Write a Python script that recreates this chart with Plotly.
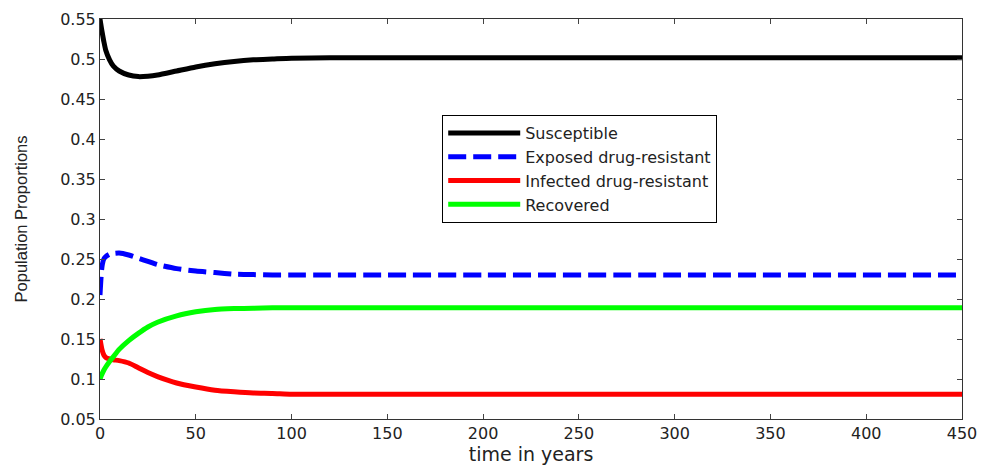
import plotly.graph_objects as go

t = [0, 1, 2, 3, 5, 7, 10, 15, 20, 25, 30, 40, 50, 60, 70, 80, 90, 100, 120, 150, 200, 300, 450]
susceptible = [0.55, 0.535, 0.522, 0.511, 0.499, 0.491, 0.485, 0.480, 0.478, 0.4785, 0.480, 0.485, 0.490, 0.494, 0.497, 0.499, 0.500, 0.501, 0.5015, 0.5015, 0.5015, 0.5015, 0.5015]
exposed = [0.205, 0.240, 0.250, 0.253, 0.256, 0.257, 0.2575, 0.255, 0.251, 0.247, 0.243, 0.238, 0.235, 0.233, 0.231, 0.2305, 0.230, 0.230, 0.230, 0.230, 0.230, 0.230, 0.230]
infected = [0.150, 0.137, 0.130, 0.127, 0.125, 0.124, 0.123, 0.120, 0.114, 0.108, 0.103, 0.095, 0.090, 0.086, 0.084, 0.0825, 0.082, 0.081, 0.081, 0.081, 0.081, 0.081, 0.081]
recovered = [0.100, 0.106, 0.111, 0.115, 0.122, 0.128, 0.137, 0.148, 0.157, 0.165, 0.171, 0.179, 0.184, 0.187, 0.188, 0.1885, 0.189, 0.189, 0.189, 0.189, 0.189, 0.189, 0.189]

names = ["Susceptible", "Exposed drug-resistant", "Infected drug-resistant", "Recovered"]
colors = ["#000000", "#0000ff", "#ff0000", "#00ff00"]
dashes = ["solid", "18px,7px", "solid", "solid"]
series = [susceptible, exposed, infected, recovered]

x_ticks = [0, 50, 100, 150, 200, 250, 300, 350, 400, 450]
y_ticks = [0.05, 0.1, 0.15, 0.2, 0.25, 0.3, 0.35, 0.4, 0.45, 0.5, 0.55]
y_labels = ["0.05", "0.1", "0.15", "0.2", "0.25", "0.3", "0.35", "0.4", "0.45", "0.5", "0.55"]

fig = go.Figure()
for n, c, d, s in zip(names, colors, dashes, series):
    fig.add_trace(go.Scatter(x=t, y=s, mode="lines", name=n,
                             line=dict(color=c, width=5, dash=d, shape="spline", smoothing=0.6)))

wide = "DejaVu Sans, Verdana, sans-serif"
fig.update_layout(
    width=983, height=465,
    margin=dict(l=100, r=21, t=19, b=46, autoexpand=False),
    paper_bgcolor="white", plot_bgcolor="white",
    font=dict(family=wide, size=16, color="#222222"),
    legend=dict(x=0.397, y=0.76, xanchor="left", yanchor="top",
                bordercolor="black", borderwidth=1, bgcolor="white",
                font=dict(family=wide, size=16, color="#222222"), tracegroupgap=0,
                itemwidth=72, entrywidth=330, entrywidthmode="pixels"),
    showlegend=True,
)
fig.update_xaxes(range=[0, 450], tickvals=x_ticks, ticks="inside", ticklen=5,
                 showline=True, linecolor="#333333", linewidth=1, mirror="ticks",
                 showgrid=False, zeroline=False, automargin=False,
                 title=dict(text="time in years", font=dict(family=wide, size=19), standoff=4),
                 tickfont=dict(family=wide, size=16))
fig.update_yaxes(range=[0.05, 0.55], tickvals=y_ticks, ticktext=y_labels, ticks="inside", ticklen=5,
                 showline=True, linecolor="#333333", linewidth=1, mirror="ticks",
                 showgrid=False, zeroline=False, automargin=False,
                 title=dict(text="Population Proportions",
                            font=dict(family="Liberation Sans, Arial, sans-serif", size=16.5), standoff=28),
                 tickfont=dict(family=wide, size=16))

fig.write_html("out.html")
